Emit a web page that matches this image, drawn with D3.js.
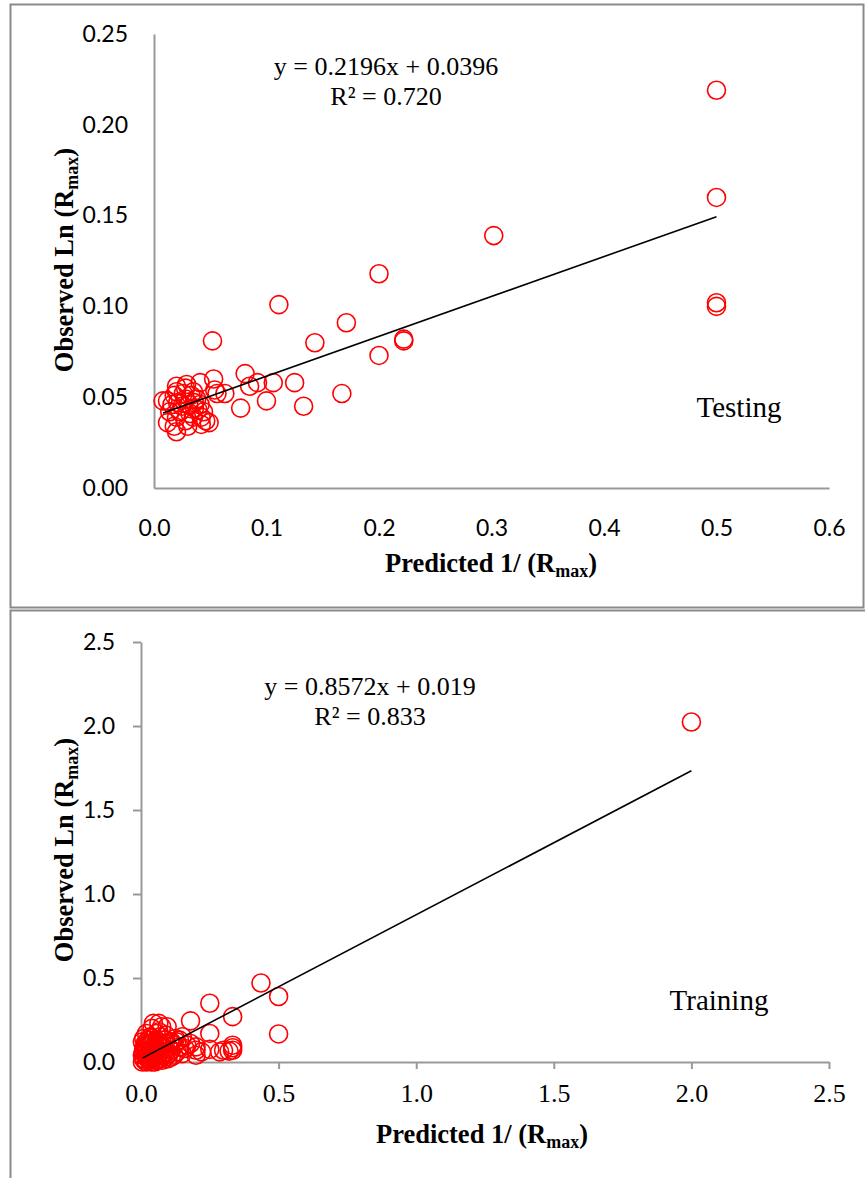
<!DOCTYPE html>
<html><head><meta charset="utf-8">
<script src="https://cdn.jsdelivr.net/npm/d3@7"></script>
<style>body{margin:0;background:#fff}svg{display:block}</style>
</head><body>
<script>
// ---- Data ----
const testX = [0.5,0.5,0.5,0.5,0.302,0.2,0.2,0.222,0.222,0.171,0.143,0.167,0.133,0.125,0.111,0.106,0.100,0.092,0.085,0.081,0.077,0.063,0.054,0.053,0.052,0.056,
  0.008,0.012,0.020,0.020,0.029,0.041,0.035,0.026,0.016,0.021,0.028,0.036,0.041,0.014,0.023,0.032,0.039,0.044,0.020,0.028,0.035,0.042,0.012,0.046,0.049,0.020,0.018,0.042,0.030,0.025,0.033,0.028,0.038,0.018,0.031,0.036];
const testY = [0.219,0.160,0.102,0.100,0.139,0.118,0.073,0.082,0.081,0.091,0.080,0.052,0.045,0.058,0.101,0.058,0.048,0.058,0.056,0.063,0.044,0.052,0.054,0.060,0.081,0.052,
  0.048,0.048,0.056,0.053,0.057,0.058,0.053,0.052,0.046,0.047,0.049,0.047,0.046,0.042,0.042,0.041,0.043,0.042,0.039,0.037,0.039,0.039,0.036,0.037,0.036,0.031,0.034,0.035,0.034,0.045,0.051,0.055,0.049,0.051,0.046,0.044];
const trainX = [2.0,0.436,0.5,0.5,0.25,0.333,0.18,0.25,0.333,0.333,0.333,0.32,0.286,0.3,0.25,0.2,0.2,0.2,0.15,0.14,0.045,0.065,0.095,0.125,0.111,0.167,0.22,0.18,
  0.01,0.01,0.01,0.015,0.02,0.02,0.02,0.02,0.025,0.03,0.03,0.03,0.03,0.035,0.04,0.04,0.04,0.045,0.05,0.05,0.05,0.05,0.055,0.06,0.06,0.065,0.07,0.07,0.07,0.075,0.08,0.08,0.085,0.09,0.09,0.1,0.1,0.105,0.11,0.12,0.12,0.13,0.14,0.15,0.16,0.005,0.005,0.015,0.025,0.035,0.045,0.06,0.065,0.04,0.075,0.02,0.01,0.09,0.11,0.13,
  0.005,0.012,0.018,0.027,0.033,0.042,0.052,0.058,0.068,0.078,0.088,0.098,0.008,0.022,0.038,0.048];
const trainY = [2.024,0.47,0.39,0.167,0.35,0.27,0.245,0.17,0.10,0.085,0.07,0.065,0.06,0.07,0.075,0.09,0.07,0.04,0.15,0.13,0.23,0.23,0.21,0.14,0.12,0.10,0.06,0.11,
  0.02,0.05,0.08,0.11,0.0,0.03,0.06,0.09,0.13,0.01,0.04,0.07,0.10,0.15,0.02,0.05,0.08,0.12,0.0,0.03,0.06,0.10,0.17,0.04,0.08,0.12,0.02,0.06,0.15,0.10,0.04,0.08,0.13,0.03,0.06,0.09,0.05,0.12,0.07,0.04,0.10,0.06,0.09,0.05,0.08,0.0,0.04,0.07,0.02,0.05,0.09,0.01,0.18,0.2,0.21,0.17,0.14,0.16,0.03,0.12,
  0.12,0.01,0.1,0.06,0.11,0.14,0.01,0.11,0.09,0.01,0.11,0.02,0.06,0.04,0.0,0.07];
const testXTicks = [0,0.1,0.2,0.3,0.4,0.5,0.6];
const testYTicks = [0,0.05,0.1,0.15,0.2,0.25];
const trainTicks = [0,0.5,1.0,1.5,2.0,2.5];
const testFit = {slope:0.2196, intercept:0.0396, r2:"0.720", eq:"y = 0.2196x + 0.0396", label:"Testing"};
const trainFit = {slope:0.8572, intercept:0.019, r2:"0.833", eq:"y = 0.8572x + 0.019", label:"Training"};

// ---- Drawing ----
const W = 865, H = 1178;
const svg = d3.select("body").append("svg").attr("width", W).attr("height", H);
const SANS = "Lato, 'Open Sans', sans-serif";
const SERIF = "'Liberation Serif', 'DejaVu Serif', serif";
const GRAY = "#999";

// panel frames
svg.append("rect").attr("x",10.5).attr("y",4.5).attr("width",853).attr("height",603)
  .attr("fill","none").attr("stroke","#8a8a8a").attr("stroke-width",2);
svg.append("rect").attr("x",10.5).attr("y",610.5).attr("width",900).attr("height",700)
  .attr("fill","none").attr("stroke","#8a8a8a").attr("stroke-width",2);

function panel(cfg){
  const g = svg.append("g");
  const x = d3.scaleLinear().domain(cfg.xDomain).range([cfg.left, cfg.right]);
  const y = d3.scaleLinear().domain(cfg.yDomain).range([cfg.bottom, cfg.top]);

  const xa = d3.axisBottom(x).tickValues(cfg.xTicks).tickFormat(d3.format(cfg.xFmt))
    .tickSize(cfg.xTickSize).tickSizeOuter(0).tickPadding(cfg.xPad);
  const ya = d3.axisLeft(y).tickValues(cfg.yTicks).tickFormat(d3.format(cfg.yFmt))
    .tickSize(cfg.yTickSize).tickSizeOuter(0).tickPadding(cfg.yPad);

  const gx = g.append("g").attr("transform",`translate(0,${cfg.bottom})`).call(xa);
  gx.selectAll("text").attr("font-family", cfg.xFont).attr("font-size", cfg.xFontSize).attr("fill","#000");
  const gy = g.append("g").attr("transform",`translate(${cfg.left},0)`).call(ya);
  gy.selectAll("text").attr("font-family", SANS).attr("font-size", 23).attr("fill","#000");
  [gx,gy].forEach(a=>{
    a.select(".domain").attr("stroke",GRAY).attr("stroke-width",2);
    a.selectAll(".tick line").attr("stroke",GRAY).attr("stroke-width",2);
  });

  // points
  const pts = cfg.xs.map((d,i)=>[d, cfg.ys[i]]);
  g.append("g").selectAll("circle").data(pts).join("circle")
    .attr("cx", d=>x(d[0])).attr("cy", d=>y(d[1])).attr("r", 9)
    .attr("fill","none").attr("stroke","#ff0000").attr("stroke-width",1.6);

  // trend line
  const [x0,x1] = d3.extent(cfg.xs);
  const f = cfg.fit;
  g.append("line").attr("x1",x(x0)).attr("y1",y(f.slope*x0+f.intercept))
    .attr("x2",x(x1)).attr("y2",y(f.slope*x1+f.intercept))
    .attr("stroke","#000").attr("stroke-width",1.6);

  // equation
  g.append("text").attr("x",cfg.eqX).attr("y",cfg.eqY).attr("text-anchor","middle")
    .attr("font-family",SERIF).attr("font-size",26).text(f.eq);
  g.append("text").attr("x",cfg.eqX).attr("y",cfg.eqY+30).attr("text-anchor","middle")
    .attr("font-family",SERIF).attr("font-size",26).text("R² = " + f.r2);
  g.append("text").attr("x",cfg.labX).attr("y",cfg.labY).attr("text-anchor","middle")
    .attr("font-family",SERIF).attr("font-size",29).text(f.label);

  // axis titles
  function title(t, main){
    t.attr("font-family",SERIF).attr("font-weight","bold").attr("font-size",26.5).attr("text-anchor","middle");
    t.append("tspan").text(main);
    t.append("tspan").attr("font-size",18).attr("dy",5).text("max");
    t.append("tspan").attr("dy",-5).text(")");
  }
  title(g.append("text").attr("x",cfg.xtX).attr("y",cfg.xtY), "Predicted 1/ (R");
  title(g.append("text").attr("transform",`translate(${cfg.ytX},${cfg.ytY}) rotate(-90)`), "Observed Ln (R");
}

panel({xDomain:[0,0.6], yDomain:[0,0.25], left:154, right:829, top:34, bottom:488,
  xTicks:testXTicks, yTicks:testYTicks, xFmt:".1f", yFmt:".2f",
  xTickSize:0, yTickSize:0, xPad:32, yPad:26, xFont:SANS, xFontSize:23,
  xs:testX, ys:testY, fit:testFit, eqX:386, eqY:75, labX:739, labY:417,
  xtX:491, xtY:572, ytX:73, ytY:260});

panel({xDomain:[0,2.5], yDomain:[0,2.5], left:141, right:829, top:642, bottom:1062,
  xTicks:trainTicks, yTicks:trainTicks, xFmt:".1f", yFmt:".1f",
  xTickSize:7, yTickSize:8, xPad:15, yPad:18, xFont:SERIF, xFontSize:26,
  xs:trainX, ys:trainY, fit:trainFit, eqX:370, eqY:695, labX:719, labY:1010,
  xtX:482, xtY:1143, ytX:73, ytY:850});
</script>
</body></html>
